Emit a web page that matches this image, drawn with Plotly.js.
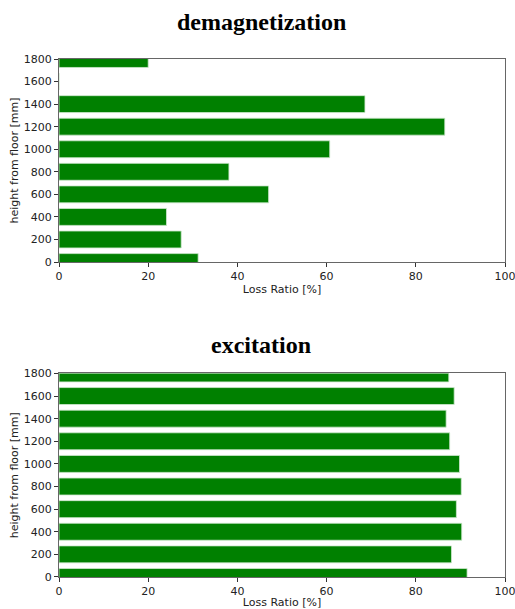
<!DOCTYPE html>
<html>
<head>
<meta charset="utf-8">
<script src="https://cdn.plot.ly/plotly-3.0.1.min.js"></script>
<style>html,body{margin:0;padding:0;background:#fff;}#chart{width:515px;height:609px;}</style>
</head>
<body>
<div id="chart"></div>
<script>
const heights = [0, 200, 400, 600, 800, 1000, 1200, 1400, 1600, 1800];
const demagnetization = [31.2, 27.4, 24.1, 47.0, 38.1, 60.7, 86.5, 68.6, 0, 20.0];
const excitation = [91.5, 88.0, 90.3, 89.1, 90.2, 89.8, 87.6, 86.8, 88.6, 87.4];
const titles = ["demagnetization", "excitation"];
const xTitle = "Loss Ratio [%]";
const yTitle = "height from floor [mm]";

const barStyle = {color: "#008000", line: {color: "#cfe8cf", width: 0.8}};
const traces = [
  {type: "bar", orientation: "h", x: demagnetization, y: heights, width: 150,
   marker: barStyle, xaxis: "x", yaxis: "y", hoverinfo: "x+y"},
  {type: "bar", orientation: "h", x: excitation, y: heights, width: 150,
   marker: barStyle, xaxis: "x2", yaxis: "y2", hoverinfo: "x+y"}
];

const tickFont = {family: "DejaVu Sans", size: 11, color: "#222"};
const titleFont = {family: "DejaVu Sans", size: 11, color: "#222"};
function xaxis(anchor) {
  return {anchor: anchor, range: [0, 100], tickvals: [0, 20, 40, 60, 80, 100],
    ticks: "outside", ticklen: 4, tickcolor: "#333", showgrid: false, zeroline: false,
    showline: true, linecolor: "#666", linewidth: 1, mirror: true, ticklabeloverflow: "allow",
    tickfont: tickFont, title: {text: xTitle, font: titleFont, standoff: 3}, fixedrange: true};
}
function yaxis(anchor, domain) {
  return {anchor: anchor, domain: domain, range: [0, 1800],
    tickvals: [0, 200, 400, 600, 800, 1000, 1200, 1400, 1600, 1800],
    ticks: "outside", ticklen: 4, tickcolor: "#333", showgrid: false, zeroline: false,
    showline: true, linecolor: "#666", linewidth: 1, mirror: true, ticklabeloverflow: "allow",
    tickfont: tickFont, title: {text: yTitle, font: titleFont, standoff: 2}, fixedrange: true};
}

const layout = {
  width: 515, height: 609,
  margin: {l: 59, r: 10, t: 59, b: 32},
  paper_bgcolor: "#fff", plot_bgcolor: "#fff",
  showlegend: false,
  xaxis: xaxis("y"),
  yaxis: yaxis("x", [0.608, 1]),
  xaxis2: xaxis("y2"),
  yaxis2: yaxis("x2", [0.0, 0.393]),
  annotations: [
    {text: "<b>" + titles[0] + "</b>", xref: "paper", yref: "paper", x: 0.454, y: 1 + 37/518,
     xanchor: "center", yanchor: "middle", showarrow: false,
     font: {family: "Liberation Serif", size: 24, color: "#000"}},
    {text: "<b>" + titles[1] + "</b>", xref: "paper", yref: "paper", x: 0.454, y: 1 - 286/518,
     xanchor: "center", yanchor: "middle", showarrow: false,
     font: {family: "Liberation Serif", size: 24, color: "#000"}}
  ]
};

Plotly.newPlot("chart", traces, layout, {displayModeBar: false, staticPlot: true});
</script>
</body>
</html>
